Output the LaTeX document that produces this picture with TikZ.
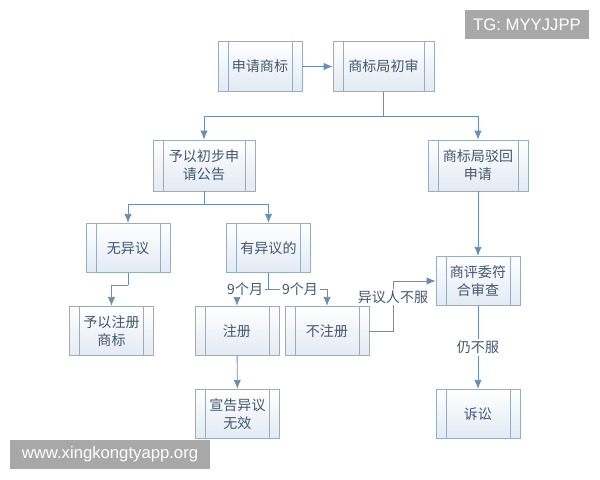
\documentclass[tikz,border=0pt]{standalone}
\usepackage{fontspec}
\setmainfont{Noto Sans CJK SC}
\newfontfamily\wmfont{Liberation Sans}
\usetikzlibrary{arrows.meta}
\definecolor{linec}{HTML}{6A8DB2}
\definecolor{boxc}{HTML}{9AACC0}
\definecolor{boxf}{HTML}{E2EAF3}
\definecolor{textc}{HTML}{44576C}
\definecolor{wmgray}{HTML}{A8A8A8}

\begin{document}
\begin{tikzpicture}
  [x=0.02cm,y=-0.02cm,line width=0.5pt,color=linec,>={Latex[length=1.8mm,width=1.5mm]},
   proc/.style={draw=boxc,top color=white,bottom color=boxf,text=textc,
     minimum width=1.68cm,minimum height=0.99cm,inner sep=0pt,align=center,
     font=\fontsize{8}{10.2}\selectfont,
     path picture={\draw[boxc] ([xshift=2mm]path picture bounding box.north west) -- ([xshift=2mm]path picture bounding box.south west)
       ([xshift=-2mm]path picture bounding box.north east) -- ([xshift=-2mm]path picture bounding box.south east);}},
   lbl/.style={fill=white,text=textc,inner sep=1pt,font=\fontsize{8}{10}\selectfont},
   wm/.style={fill=wmgray,text=white,inner sep=0pt,minimum height=0.58cm,
     font=\wmfont\fontsize{9.5}{11}\selectfont}]
\useasboundingbox (0,0) rectangle (600,480);
  \node[proc] (n1) at (260,66.5) {申请商标};
  \node[proc,minimum width=2.02cm] (n2) at (383.5,66.5) {商标局初审};
  \node[proc,minimum width=2.04cm,minimum height=1.02cm] (n3) at (204,165.5) {予以初步申\\请公告};
  \node[proc,minimum width=2cm,minimum height=1.02cm] (n4) at (478,165.5) {商标局驳回\\申请};
  \node[proc] (n5) at (128,248) {无异议};
  \node[proc] (n6) at (268.5,248) {有异议的};
  \node[proc] (n7) at (111.5,331) {予以注册\\商标};
  \node[proc] (n8) at (237,331) {注册};
  \node[proc] (n9) at (327,331) {不注册};
  \node[proc] (n10) at (478,281) {商评委符\\合审查};
  \node[proc] (n11) at (237.5,414) {宣告异议\\无效};
  \node[proc] (n12) at (478,414) {诉讼};

  \coordinate (c1) at (383.5,116);
  \coordinate (c2) at (204,204);
  \coordinate (c3) at (128,285);
  \coordinate (c4) at (268.5,289);
  \coordinate (c5) at (393,331);
  \coordinate (c6) at (393,281);

  \draw[->] (n1) -- (n2);
  \draw (n2) -- (c1);
  \draw (n3) -- (c2);
  \draw (n5) -- (c3);
  \draw (n6) -- (c4);
  \foreach \from/\to in {c1/n3, c1/n4, c2/n5, c2/n6, c3/n7}
    \draw[->] (\from) -| (\to);
  \draw[->] (c4) -| node[lbl,pos=0.37] {9个月} (n8);
  \draw[->] (c4) -| node[lbl,pos=0.27] {9个月} (n9);
  \draw[->] (n8) -- (n11);
  \draw[->] (n4) -- (n10);
  \draw[->] (n9) -- (c5) -- node[lbl,pos=0.68] {异议人不服} (c6) -- (n10);
  \draw[->] (n10) -- node[lbl] {仍不服} (n12);

  \node[wm,minimum width=2.48cm] (tg) at (527,24.5) {TG: MYYJJPP};
  \node[wm,minimum width=4cm] (web) at (110,454.5) {www.xingkongtyapp.org};
\end{tikzpicture}
\end{document}
